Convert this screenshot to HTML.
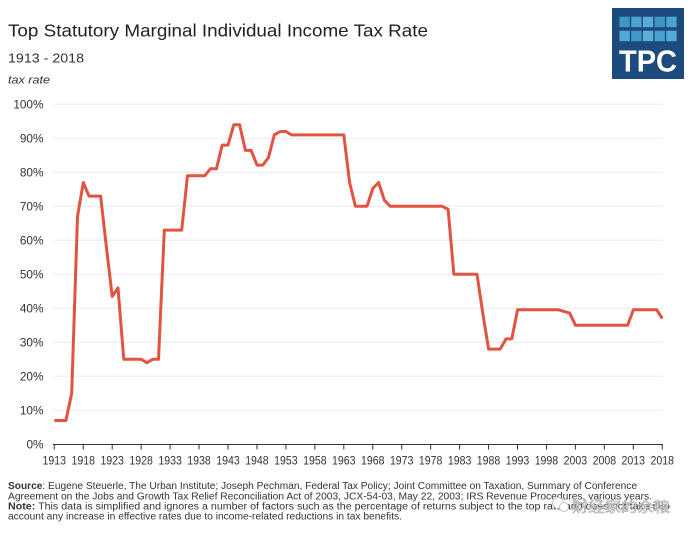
<!DOCTYPE html>
<html><head><meta charset="utf-8"><style>
html,body{margin:0;padding:0;background:#fff;}
svg{display:block;}
text{font-family:"Liberation Sans","Noto Sans CJK SC",sans-serif;}
</style></head><body>
<svg width="693" height="539" viewBox="0 0 693 539" xmlns="http://www.w3.org/2000/svg">
<rect width="693" height="539" fill="#fff"/>
<text x="8" y="36.5" font-size="17.5" fill="#222" textLength="420" lengthAdjust="spacingAndGlyphs">Top Statutory Marginal Individual Income Tax Rate</text>
<text x="8" y="62.3" font-size="13" fill="#333" textLength="76" lengthAdjust="spacingAndGlyphs">1913 - 2018</text>
<text x="8" y="83.5" font-size="11" font-style="italic" fill="#333" textLength="42" lengthAdjust="spacingAndGlyphs">tax rate</text>
<!-- logo -->
<rect x="612" y="8" width="72" height="71" fill="#1d4b7d"/>
<g>
<rect x="619.5" y="16.7" width="10.3" height="10.5" fill="#3f97c6"/>
<rect x="631.2" y="16.7" width="10.3" height="10.5" fill="#4aa2cf"/>
<rect x="642.9" y="16.7" width="10.3" height="10.5" fill="#56acd6"/>
<rect x="654.6" y="16.7" width="10.3" height="10.5" fill="#3e95c4"/>
<rect x="666.3" y="16.7" width="10.3" height="10.5" fill="#4ca4d0"/>
<rect x="619.5" y="30.7" width="10.3" height="10.5" fill="#52a9d4"/>
<rect x="631.2" y="30.7" width="10.3" height="10.5" fill="#3f98c7"/>
<rect x="642.9" y="30.7" width="10.3" height="10.5" fill="#5aafd8"/>
<rect x="654.6" y="30.7" width="10.3" height="10.5" fill="#48a0cd"/>
<rect x="666.3" y="30.7" width="10.3" height="10.5" fill="#55abd5"/>
</g>
<text x="619" y="71.7" font-size="31" font-weight="bold" fill="#fff" textLength="58" lengthAdjust="spacingAndGlyphs">TPC</text>
<!-- gridlines -->
<g stroke="#ebebeb" stroke-width="1">
<line x1="53" y1="104.3" x2="663" y2="104.3"/>
<line x1="53" y1="138.3" x2="663" y2="138.3"/>
<line x1="53" y1="172.3" x2="663" y2="172.3"/>
<line x1="53" y1="206.3" x2="663" y2="206.3"/>
<line x1="53" y1="240.3" x2="663" y2="240.3"/>
<line x1="53" y1="274.3" x2="663" y2="274.3"/>
<line x1="53" y1="308.3" x2="663" y2="308.3"/>
<line x1="53" y1="342.3" x2="663" y2="342.3"/>
<line x1="53" y1="376.3" x2="663" y2="376.3"/>
<line x1="53" y1="410.3" x2="663" y2="410.3"/>
</g>
<!-- y labels -->
<g font-size="11.8" fill="#333" text-anchor="end">
<text x="43.5" y="108.6">100%</text>
<text x="43.5" y="142.6">90%</text>
<text x="43.5" y="176.6">80%</text>
<text x="43.5" y="210.6">70%</text>
<text x="43.5" y="244.6">60%</text>
<text x="43.5" y="278.6">50%</text>
<text x="43.5" y="312.6">40%</text>
<text x="43.5" y="346.6">30%</text>
<text x="43.5" y="380.6">20%</text>
<text x="43.5" y="414.6">10%</text>
<text x="43.5" y="448.6">0%</text>
</g>
<!-- axis -->
<line x1="53" y1="444.5" x2="663" y2="444.5" stroke="#333" stroke-width="1"/>
<g stroke="#333" stroke-width="1">
<line x1="54.3" y1="444.5" x2="54.3" y2="449.5"/>
<line x1="83.25" y1="444.5" x2="83.25" y2="449.5"/>
<line x1="112.2" y1="444.5" x2="112.2" y2="449.5"/>
<line x1="141.15" y1="444.5" x2="141.15" y2="449.5"/>
<line x1="170.1" y1="444.5" x2="170.1" y2="449.5"/>
<line x1="199.05" y1="444.5" x2="199.05" y2="449.5"/>
<line x1="228" y1="444.5" x2="228" y2="449.5"/>
<line x1="256.95" y1="444.5" x2="256.95" y2="449.5"/>
<line x1="285.9" y1="444.5" x2="285.9" y2="449.5"/>
<line x1="314.85" y1="444.5" x2="314.85" y2="449.5"/>
<line x1="343.8" y1="444.5" x2="343.8" y2="449.5"/>
<line x1="372.75" y1="444.5" x2="372.75" y2="449.5"/>
<line x1="401.7" y1="444.5" x2="401.7" y2="449.5"/>
<line x1="430.65" y1="444.5" x2="430.65" y2="449.5"/>
<line x1="459.6" y1="444.5" x2="459.6" y2="449.5"/>
<line x1="488.55" y1="444.5" x2="488.55" y2="449.5"/>
<line x1="517.5" y1="444.5" x2="517.5" y2="449.5"/>
<line x1="546.45" y1="444.5" x2="546.45" y2="449.5"/>
<line x1="575.4" y1="444.5" x2="575.4" y2="449.5"/>
<line x1="604.35" y1="444.5" x2="604.35" y2="449.5"/>
<line x1="633.3" y1="444.5" x2="633.3" y2="449.5"/>
<line x1="662.25" y1="444.5" x2="662.25" y2="449.5"/>
</g>
<!-- x labels -->
<g font-size="12.2" fill="#333" text-anchor="middle">
<text x="54.3" y="464.5" textLength="23.5" lengthAdjust="spacingAndGlyphs">1913</text>
<text x="83.25" y="464.5" textLength="23.5" lengthAdjust="spacingAndGlyphs">1918</text>
<text x="112.2" y="464.5" textLength="23.5" lengthAdjust="spacingAndGlyphs">1923</text>
<text x="141.15" y="464.5" textLength="23.5" lengthAdjust="spacingAndGlyphs">1928</text>
<text x="170.1" y="464.5" textLength="23.5" lengthAdjust="spacingAndGlyphs">1933</text>
<text x="199.05" y="464.5" textLength="23.5" lengthAdjust="spacingAndGlyphs">1938</text>
<text x="228" y="464.5" textLength="23.5" lengthAdjust="spacingAndGlyphs">1943</text>
<text x="256.95" y="464.5" textLength="23.5" lengthAdjust="spacingAndGlyphs">1948</text>
<text x="285.9" y="464.5" textLength="23.5" lengthAdjust="spacingAndGlyphs">1953</text>
<text x="314.85" y="464.5" textLength="23.5" lengthAdjust="spacingAndGlyphs">1958</text>
<text x="343.8" y="464.5" textLength="23.5" lengthAdjust="spacingAndGlyphs">1963</text>
<text x="372.75" y="464.5" textLength="23.5" lengthAdjust="spacingAndGlyphs">1968</text>
<text x="401.7" y="464.5" textLength="23.5" lengthAdjust="spacingAndGlyphs">1973</text>
<text x="430.65" y="464.5" textLength="23.5" lengthAdjust="spacingAndGlyphs">1978</text>
<text x="459.6" y="464.5" textLength="23.5" lengthAdjust="spacingAndGlyphs">1983</text>
<text x="488.55" y="464.5" textLength="23.5" lengthAdjust="spacingAndGlyphs">1988</text>
<text x="517.5" y="464.5" textLength="23.5" lengthAdjust="spacingAndGlyphs">1993</text>
<text x="546.45" y="464.5" textLength="23.5" lengthAdjust="spacingAndGlyphs">1998</text>
<text x="575.4" y="464.5" textLength="23.5" lengthAdjust="spacingAndGlyphs">2003</text>
<text x="604.35" y="464.5" textLength="23.5" lengthAdjust="spacingAndGlyphs">2008</text>
<text x="633.3" y="464.5" textLength="23.5" lengthAdjust="spacingAndGlyphs">2013</text>
<text x="662.25" y="464.5" textLength="23.5" lengthAdjust="spacingAndGlyphs">2018</text>
</g>
<!-- series -->
<polyline fill="none" stroke="#e15440" stroke-width="3" stroke-linejoin="round" stroke-linecap="butt" points="54.3,420.5 65.9,420.5 71.7,393.3 77.5,216.5 83.3,182.5 89.0,196.1 100.6,196.1 106.4,247.1 112.2,296.4 118.0,287.9 123.8,359.3 141.2,359.3 147.0,362.7 152.7,359.3 158.5,359.3 164.3,230.1 181.7,230.1 187.5,175.7 204.8,175.7 210.6,168.6 216.4,168.9 222.2,145.1 228.0,145.1 233.8,124.7 239.6,124.7 245.4,150.4 251.2,150.4 257.0,165.1 262.8,165.1 268.5,157.5 274.3,134.9 280.1,131.5 285.9,131.5 291.7,134.9 343.8,134.9 349.6,182.5 355.4,206.3 367.0,206.3 372.8,188.5 378.6,182.5 384.4,200.3 390.2,206.3 442.3,206.3 448.1,209.3 453.9,274.3 477.0,274.3 482.8,313.4 488.6,349.1 500.2,349.1 506.0,338.9 511.8,338.9 517.6,309.7 558.1,309.7 563.9,311.4 569.7,313.1 575.5,325.3 627.6,325.3 633.4,309.7 656.6,309.7 662.3,318.5"/>
<!-- footer -->
<g font-size="9.8" fill="#333">
<text x="8" y="489" textLength="629" lengthAdjust="spacingAndGlyphs"><tspan font-weight="bold">Source</tspan>: Eugene Steuerle, The Urban Institute; Joseph Pechman, Federal Tax Policy; Joint Committee on Taxation, Summary of Conference</text>
<text x="8" y="499.3" textLength="644" lengthAdjust="spacingAndGlyphs">Agreement on the Jobs and Growth Tax Relief Reconciliation Act of 2003, JCX-54-03, May 22, 2003; IRS Revenue Procedures, various years.</text>
<text x="8" y="509.3" textLength="662" lengthAdjust="spacingAndGlyphs"><tspan font-weight="bold">Note:</tspan> This data is simplified and ignores a number of factors such as the percentage of returns subject to the top rate and does not take into</text>
<text x="8" y="519.3" textLength="394" lengthAdjust="spacingAndGlyphs">account any increase in effective rates due to income-related reductions in tax benefits.</text>
</g>
<!-- watermark -->
<circle cx="558" cy="503" r="5.5" fill="#fff" stroke="#bbb" stroke-width="0.8"/>
<circle cx="564" cy="507" r="4.5" fill="#fff" stroke="#bbb" stroke-width="0.8"/>
<text x="572" y="512" font-size="14" fill="#f4f4f4" stroke="#999" stroke-width="0.5" font-family="'Noto Sans CJK SC',sans-serif" textLength="98" lengthAdjust="spacingAndGlyphs">财经家的余粮</text>
</svg>
</body></html>
